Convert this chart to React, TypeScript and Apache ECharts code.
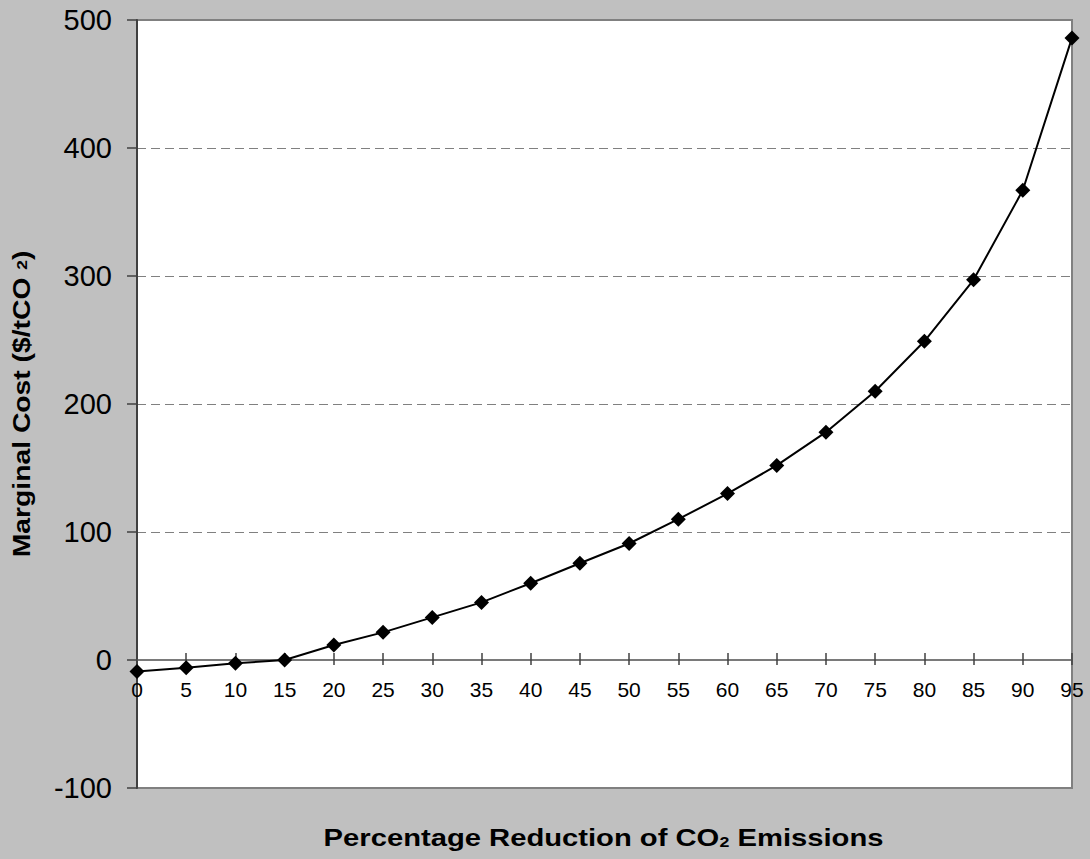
import React, { useEffect, useRef } from "react";
import * as echarts from "echarts";

const categories = ["0", "5", "10", "15", "20", "25", "30", "35", "40", "45", "50", "55", "60", "65", "70", "75", "80", "85", "90", "95"];
const marginalCost = [-9, -6, -2.6, 0, 11.7, 21.6, 33.3, 45, 60, 75.6, 91, 110, 130, 152, 178, 210, 249, 297, 367, 486];
const yTicks = { min: -100, max: 500, interval: 100 };
const xTitle = "Percentage Reduction of CO{s|2} Emissions";
const yTitle = "Marginal Cost ($/tCO {s|2})";

const FONT = "Liberation Sans, Arial, Helvetica, sans-serif";

export default function App() {
  const ref = useRef<HTMLDivElement>(null);
  useEffect(() => {
    if (!ref.current) return;
    const chart = echarts.init(ref.current, null, { renderer: "svg" });
    chart.setOption({
      animation: false,
      backgroundColor: "#C0C0C0",
      textStyle: { fontFamily: FONT },
      grid: {
        left: 137,
        right: 18,
        top: 20,
        bottom: 71,
        show: true,
        backgroundColor: "#FFFFFF",
        borderColor: "#808080",
        borderWidth: 2,
      },
      xAxis: [
        {
          type: "category",
          data: categories,
          boundaryGap: false,
          position: "bottom",
          offset: -128,
          axisLine: { show: true, onZero: false, lineStyle: { color: "#7A7A7A", width: 2 } },
          axisTick: { show: true, inside: false, length: 5, interval: 0, lineStyle: { color: "#404040", width: 1.5 } },
          axisLabel: { interval: 0, color: "#000", fontSize: 21, margin: 19, fontFamily: FONT },
          splitLine: { show: false },
        },
        {
          type: "category",
          data: categories,
          boundaryGap: false,
          position: "top",
          offset: -640,
          axisLine: { show: false, onZero: false },
          axisTick: { show: true, inside: false, length: 7, interval: 0, lineStyle: { color: "#404040", width: 1.5 } },
          axisLabel: { show: false },
          splitLine: { show: false },
        },
      ],
      yAxis: {
        type: "value",
        min: yTicks.min,
        max: yTicks.max,
        interval: yTicks.interval,
        axisLine: { show: true, lineStyle: { color: "#404040", width: 2 } },
        axisTick: { show: true, inside: false, length: 10, lineStyle: { color: "#404040", width: 1.5 } },
        axisLabel: { color: "#000", fontSize: 29, margin: 25, fontFamily: FONT },
        splitLine: { show: true, lineStyle: { color: "#808080", type: [9, 5], width: 1.2 } },
      },
      graphic: [
        {
          type: "text",
          x: 603.5,
          y: 838,
          scaleX: 1.27,
          style: {
            text: xTitle,
            font: "bold 23px " + FONT,
            fill: "#000",
            textAlign: "center",
            textVerticalAlign: "middle",
            rich: {
              s: { fontSize: 14, fontWeight: "bold", fontFamily: FONT, verticalAlign: "bottom", fill: "#000" },
            },
          },
        },
        {
          type: "text",
          x: 22,
          y: 404,
          rotation: Math.PI / 2,
          scaleX: 1.23,
          style: {
            text: yTitle,
            font: "bold 23px " + FONT,
            fill: "#000",
            textAlign: "center",
            textVerticalAlign: "middle",
            rich: {
              s: { fontSize: 14, fontWeight: "bold", fontFamily: FONT, fill: "#000" },
            },
          },
        },
      ],
      series: [
        {
          type: "line",
          xAxisIndex: 0,
          data: marginalCost,
          symbol: "diamond",
          symbolSize: 15,
          itemStyle: { color: "#000" },
          lineStyle: { color: "#000", width: 2 },
          z: 5,
        },
      ],
    });
    return () => chart.dispose();
  }, []);
  return <div ref={ref} style={{ position: "fixed", left: 0, top: 0, width: 1090, height: 859 }} />;
}
